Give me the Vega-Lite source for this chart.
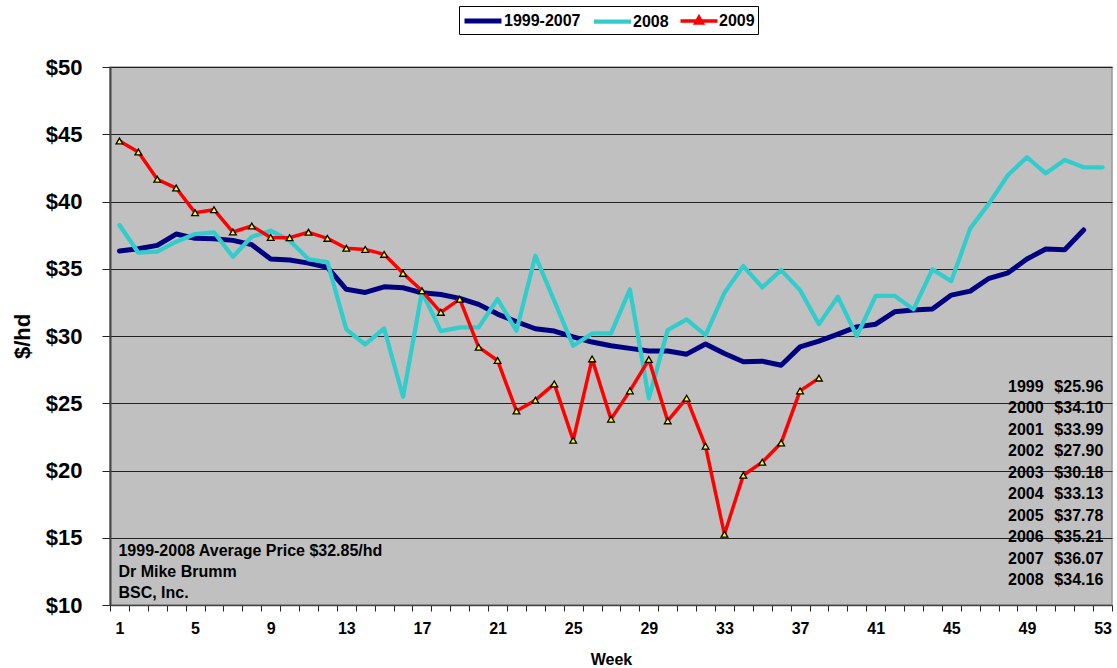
{
  "$schema": "https://vega.github.io/schema/vega-lite/v6.json",
  "width": 1002,
  "height": 538,
  "autosize": "none",
  "padding": {"left": 110, "top": 67, "right": 5, "bottom": 63},
  "background": "white",
  "view": {"fill": "#C0C0C0", "stroke": "#999999", "strokeWidth": 1.5},
  "config": {
    "font": "Liberation Sans",
    "text": {"font": "Liberation Sans"},
    "axis": {"ticks": true, "tickOpacity": 1}
  },
  "resolve": {"axis": {"x": "independent", "y": "independent"}},
  "datasets": {
    "prices": [
      {"week": 1, "series": "1999-2007", "price": 36.32},
      {"week": 2, "series": "1999-2007", "price": 36.49},
      {"week": 3, "series": "1999-2007", "price": 36.74},
      {"week": 4, "series": "1999-2007", "price": 37.58},
      {"week": 5, "series": "1999-2007", "price": 37.26},
      {"week": 6, "series": "1999-2007", "price": 37.23},
      {"week": 7, "series": "1999-2007", "price": 37.11},
      {"week": 8, "series": "1999-2007", "price": 36.79},
      {"week": 9, "series": "1999-2007", "price": 35.72},
      {"week": 10, "series": "1999-2007", "price": 35.65},
      {"week": 11, "series": "1999-2007", "price": 35.42},
      {"week": 12, "series": "1999-2007", "price": 35.10},
      {"week": 13, "series": "1999-2007", "price": 33.47},
      {"week": 14, "series": "1999-2007", "price": 33.24},
      {"week": 15, "series": "1999-2007", "price": 33.66},
      {"week": 16, "series": "1999-2007", "price": 33.59},
      {"week": 17, "series": "1999-2007", "price": 33.21},
      {"week": 18, "series": "1999-2007", "price": 33.09},
      {"week": 19, "series": "1999-2007", "price": 32.80},
      {"week": 20, "series": "1999-2007", "price": 32.35},
      {"week": 21, "series": "1999-2007", "price": 31.63},
      {"week": 22, "series": "1999-2007", "price": 31.06},
      {"week": 23, "series": "1999-2007", "price": 30.54},
      {"week": 24, "series": "1999-2007", "price": 30.37},
      {"week": 25, "series": "1999-2007", "price": 29.94},
      {"week": 26, "series": "1999-2007", "price": 29.55},
      {"week": 27, "series": "1999-2007", "price": 29.27},
      {"week": 28, "series": "1999-2007", "price": 29.08},
      {"week": 29, "series": "1999-2007", "price": 28.88},
      {"week": 30, "series": "1999-2007", "price": 28.88},
      {"week": 31, "series": "1999-2007", "price": 28.65},
      {"week": 32, "series": "1999-2007", "price": 29.40},
      {"week": 33, "series": "1999-2007", "price": 28.70},
      {"week": 34, "series": "1999-2007", "price": 28.08},
      {"week": 35, "series": "1999-2007", "price": 28.13},
      {"week": 36, "series": "1999-2007", "price": 27.83},
      {"week": 37, "series": "1999-2007", "price": 29.19},
      {"week": 38, "series": "1999-2007", "price": 29.62},
      {"week": 39, "series": "1999-2007", "price": 30.14},
      {"week": 40, "series": "1999-2007", "price": 30.68},
      {"week": 41, "series": "1999-2007", "price": 30.88},
      {"week": 42, "series": "1999-2007", "price": 31.80},
      {"week": 43, "series": "1999-2007", "price": 31.93},
      {"week": 44, "series": "1999-2007", "price": 32.00},
      {"week": 45, "series": "1999-2007", "price": 33.04},
      {"week": 46, "series": "1999-2007", "price": 33.34},
      {"week": 47, "series": "1999-2007", "price": 34.29},
      {"week": 48, "series": "1999-2007", "price": 34.70},
      {"week": 49, "series": "1999-2007", "price": 35.72},
      {"week": 50, "series": "1999-2007", "price": 36.47},
      {"week": 51, "series": "1999-2007", "price": 36.41},
      {"week": 52, "series": "1999-2007", "price": 37.88},
      {"week": 1, "series": "2008", "price": 38.25},
      {"week": 2, "series": "2008", "price": 36.19},
      {"week": 3, "series": "2008", "price": 36.27},
      {"week": 4, "series": "2008", "price": 37.01},
      {"week": 5, "series": "2008", "price": 37.58},
      {"week": 6, "series": "2008", "price": 37.71},
      {"week": 7, "series": "2008", "price": 35.89},
      {"week": 8, "series": "2008", "price": 37.38},
      {"week": 9, "series": "2008", "price": 37.83},
      {"week": 10, "series": "2008", "price": 37.10},
      {"week": 11, "series": "2008", "price": 35.70},
      {"week": 12, "series": "2008", "price": 35.50},
      {"week": 13, "series": "2008", "price": 30.49},
      {"week": 14, "series": "2008", "price": 29.37},
      {"week": 15, "series": "2008", "price": 30.56},
      {"week": 16, "series": "2008", "price": 25.48},
      {"week": 17, "series": "2008", "price": 33.29},
      {"week": 18, "series": "2008", "price": 30.36},
      {"week": 19, "series": "2008", "price": 30.64},
      {"week": 20, "series": "2008", "price": 30.64},
      {"week": 21, "series": "2008", "price": 32.75},
      {"week": 22, "series": "2008", "price": 30.39},
      {"week": 23, "series": "2008", "price": 35.97},
      {"week": 24, "series": "2008", "price": 32.60},
      {"week": 25, "series": "2008", "price": 29.27},
      {"week": 26, "series": "2008", "price": 30.19},
      {"week": 27, "series": "2008", "price": 30.19},
      {"week": 28, "series": "2008", "price": 33.47},
      {"week": 29, "series": "2008", "price": 25.36},
      {"week": 30, "series": "2008", "price": 30.44},
      {"week": 31, "series": "2008", "price": 31.24},
      {"week": 32, "series": "2008", "price": 30.07},
      {"week": 33, "series": "2008", "price": 33.21},
      {"week": 34, "series": "2008", "price": 35.20},
      {"week": 35, "series": "2008", "price": 33.61},
      {"week": 36, "series": "2008", "price": 34.90},
      {"week": 37, "series": "2008", "price": 33.41},
      {"week": 38, "series": "2008", "price": 30.88},
      {"week": 39, "series": "2008", "price": 32.92},
      {"week": 40, "series": "2008", "price": 29.99},
      {"week": 41, "series": "2008", "price": 32.99},
      {"week": 42, "series": "2008", "price": 32.99},
      {"week": 43, "series": "2008", "price": 31.98},
      {"week": 44, "series": "2008", "price": 34.95},
      {"week": 45, "series": "2008", "price": 34.08},
      {"week": 46, "series": "2008", "price": 38.00},
      {"week": 47, "series": "2008", "price": 39.86},
      {"week": 48, "series": "2008", "price": 41.97},
      {"week": 49, "series": "2008", "price": 43.29},
      {"week": 50, "series": "2008", "price": 42.10},
      {"week": 51, "series": "2008", "price": 43.09},
      {"week": 52, "series": "2008", "price": 42.54},
      {"week": 53, "series": "2008", "price": 42.54},
      {"week": 1, "series": "2009", "price": 44.50},
      {"week": 2, "series": "2009", "price": 43.68},
      {"week": 3, "series": "2009", "price": 41.65},
      {"week": 4, "series": "2009", "price": 41.00},
      {"week": 5, "series": "2009", "price": 39.17},
      {"week": 6, "series": "2009", "price": 39.39},
      {"week": 7, "series": "2009", "price": 37.73},
      {"week": 8, "series": "2009", "price": 38.18},
      {"week": 9, "series": "2009", "price": 37.33},
      {"week": 10, "series": "2009", "price": 37.31},
      {"week": 11, "series": "2009", "price": 37.71},
      {"week": 12, "series": "2009", "price": 37.26},
      {"week": 13, "series": "2009", "price": 36.52},
      {"week": 14, "series": "2009", "price": 36.44},
      {"week": 15, "series": "2009", "price": 36.07},
      {"week": 16, "series": "2009", "price": 34.66},
      {"week": 17, "series": "2009", "price": 33.36},
      {"week": 18, "series": "2009", "price": 31.76},
      {"week": 19, "series": "2009", "price": 32.74},
      {"week": 20, "series": "2009", "price": 29.17},
      {"week": 21, "series": "2009", "price": 28.18},
      {"week": 22, "series": "2009", "price": 24.43},
      {"week": 23, "series": "2009", "price": 25.23},
      {"week": 24, "series": "2009", "price": 26.44},
      {"week": 25, "series": "2009", "price": 22.25},
      {"week": 26, "series": "2009", "price": 28.30},
      {"week": 27, "series": "2009", "price": 23.82},
      {"week": 28, "series": "2009", "price": 25.92},
      {"week": 29, "series": "2009", "price": 28.25},
      {"week": 30, "series": "2009", "price": 23.69},
      {"week": 31, "series": "2009", "price": 25.38},
      {"week": 32, "series": "2009", "price": 21.81},
      {"week": 33, "series": "2009", "price": 15.26},
      {"week": 34, "series": "2009", "price": 19.65},
      {"week": 35, "series": "2009", "price": 20.62},
      {"week": 36, "series": "2009", "price": 22.05},
      {"week": 37, "series": "2009", "price": 25.92},
      {"week": 38, "series": "2009", "price": 26.87}
    ],
    "notes": [
      {"week": 1, "price": 14.03, "text": "1999-2008 Average Price $32.85/hd"},
      {"week": 1, "price": 12.45, "text": "Dr Mike Brumm"},
      {"week": 1, "price": 10.87, "text": "BSC, Inc."}
    ],
    "averages": [
      {"year": "1999", "avg": "$25.96", "price": 26.22},
      {"year": "2000", "avg": "$34.10", "price": 24.62},
      {"year": "2001", "avg": "$33.99", "price": 23.02},
      {"year": "2002", "avg": "$27.90", "price": 21.43},
      {"year": "2003", "avg": "$30.18", "price": 19.83},
      {"year": "2004", "avg": "$33.13", "price": 18.23},
      {"year": "2005", "avg": "$37.78", "price": 16.63},
      {"year": "2006", "avg": "$35.21", "price": 15.03},
      {"year": "2007", "avg": "$36.07", "price": 13.44},
      {"year": "2008", "avg": "$34.16", "price": 11.84}
    ]
  },
  "layer": [
    {
      "data": {"name": "prices"},
      "mark": {"type": "line", "strokeJoin": "round", "strokeCap": "round"},
      "encoding": {
        "x": {
          "field": "week",
          "type": "ordinal",
          "bandPosition": 0.5,
          "scale": {"type": "band", "domain": [1, 2, 3, 4, 5, 6, 7, 8, 9, 10, 11, 12, 13, 14, 15, 16, 17, 18, 19, 20, 21, 22, 23, 24, 25, 26, 27, 28, 29, 30, 31, 32, 33, 34, 35, 36, 37, 38, 39, 40, 41, 42, 43, 44, 45, 46, 47, 48, 49, 50, 51, 52, 53], "paddingInner": 0, "paddingOuter": 0},
          "axis": {
            "orient": "bottom",
            "labelAngle": 0,
            "labelExpr": "datum.value % 4 === 1 ? '' + datum.value : ''",
            "labelOverlap": false,
            "labelFlush": false,
            "tickBand": "extent",
            "ticks": true,
            "tickSize": 6,
            "tickColor": "#222222",
            "tickWidth": 1,
            "tickOpacity": 1,
            "grid": false,
            "labelFont": "Liberation Sans",
            "labelFontWeight": "bold",
            "labelFontSize": 16,
            "labelColor": "black",
            "labelPadding": 9,
            "domainColor": "#444444",
            "domainWidth": 1.5,
            "title": "Week",
            "titleFont": "Liberation Sans",
            "titleFontWeight": "bold",
            "titleFontSize": 16,
            "titleColor": "black",
            "titleBaseline": "middle",
            "titleY": 54
          }
        },
        "y": {
          "field": "price",
          "type": "quantitative",
          "scale": {"domain": [10, 50], "nice": false, "zero": false},
          "axis": {
            "orient": "left",
            "values": [10, 15, 20, 25, 30, 35, 40, 45, 50],
            "labelExpr": "'$' + datum.value",
            "grid": true,
            "gridColor": "#222222",
            "gridWidth": 1,
            "labelFont": "Liberation Sans",
            "labelFontWeight": "bold",
            "labelFontSize": 22,
            "labelColor": "black",
            "labelPadding": 20,
            "ticks": true,
            "tickSize": 8,
            "tickColor": "#222222",
            "tickWidth": 1,
            "domainColor": "#444444",
            "domainWidth": 2,
            "title": "$/hd",
            "titleFont": "Liberation Sans",
            "titleFontWeight": "bold",
            "titleFontSize": 22,
            "titleColor": "black",
            "titleAngle": -90,
            "titleAlign": "center",
            "titleBaseline": "middle",
            "titleX": -88,
            "titleY": 269
          }
        },
        "color": {
          "field": "series",
          "type": "nominal",
          "scale": {"domain": ["1999-2007", "2008", "2009"], "range": ["#000080", "#33CCCC", "#FF0000"]},
          "legend": {
            "orient": "none",
            "legendX": 349,
            "legendY": -61,
            "direction": "horizontal",
            "title": null,
            "fillColor": "white",
            "strokeColor": "black",
            "padding": 3,
            "cornerRadius": 0,
            "columnPadding": 4,
            "symbolOffset": 9,
            "labelOffset": 9,
            "labelFont": "Liberation Sans",
            "labelFontWeight": "bold",
            "labelFontSize": 16,
            "labelColor": "black",
            "symbolType": "M-2,0H2",
            "symbolSize": 342,
            "symbolStrokeWidth": 4,
            "symbolFillColor": "#FFFF00",
            "encode": {
              "symbols": {
                "update": {
                  "shape": [
                    {"test": "datum.value === '2009'", "value": "M-2,0H2M0,-0.4L0.34,0.2L-0.34,0.2Z"},
                    {"value": "M-2,0H2"}
                  ],
                  "fill": {"value": "#FFFF00"}
                }
              }
            }
          }
        },
        "strokeWidth": {
          "field": "series",
          "type": "nominal",
          "scale": {"domain": ["1999-2007", "2008", "2009"], "range": [5, 3.5, 5]},
          "legend": null
        }
      }
    },
    {
      "data": {"name": "prices"},
      "transform": [{"filter": "datum.series === '2009'"}],
      "mark": {"type": "point", "shape": "triangle-up", "filled": true, "fill": "#FFFF00", "stroke": "black", "strokeWidth": 1.3, "size": 45, "opacity": 1},
      "encoding": {
        "x": {"field": "week", "type": "ordinal", "bandPosition": 0.5, "axis": null},
        "y": {"field": "price", "type": "quantitative", "axis": null}
      }
    },
    {
      "data": {"name": "notes"},
      "mark": {"type": "text", "align": "left", "baseline": "middle", "font": "Liberation Sans", "fontWeight": "bold", "fontSize": 16, "color": "black", "dx": -1},
      "encoding": {
        "x": {"field": "week", "type": "ordinal", "bandPosition": 0.5, "axis": null},
        "y": {"field": "price", "type": "quantitative", "axis": null},
        "text": {"field": "text"}
      }
    },
    {
      "mark": {"type": "rect", "color": "#E2E2E2", "opacity": 1},
      "encoding": {
        "x": {"datum": 48, "type": "ordinal", "bandPosition": 0.28, "axis": null},
        "x2": {"datum": 53, "bandPosition": 1},
        "y": {"datum": 27.14, "type": "quantitative", "axis": null},
        "y2": {"datum": 10.67}
      }
    },
    {
      "data": {"name": "averages"},
      "mark": {"type": "text", "align": "left", "baseline": "middle", "font": "Liberation Sans", "fontWeight": "bold", "fontSize": 16, "color": "black"},
      "encoding": {
        "x": {"datum": 48, "type": "ordinal", "bandPosition": 0.5, "axis": null},
        "y": {"field": "price", "type": "quantitative", "axis": null},
        "text": {"field": "year"}
      }
    },
    {
      "data": {"name": "averages"},
      "mark": {"type": "text", "align": "left", "baseline": "middle", "font": "Liberation Sans", "fontWeight": "bold", "fontSize": 16, "color": "black"},
      "encoding": {
        "x": {"datum": 50, "type": "ordinal", "bandPosition": 0.95, "axis": null},
        "y": {"field": "price", "type": "quantitative", "axis": null},
        "text": {"field": "avg"}
      }
    }
  ]
}
